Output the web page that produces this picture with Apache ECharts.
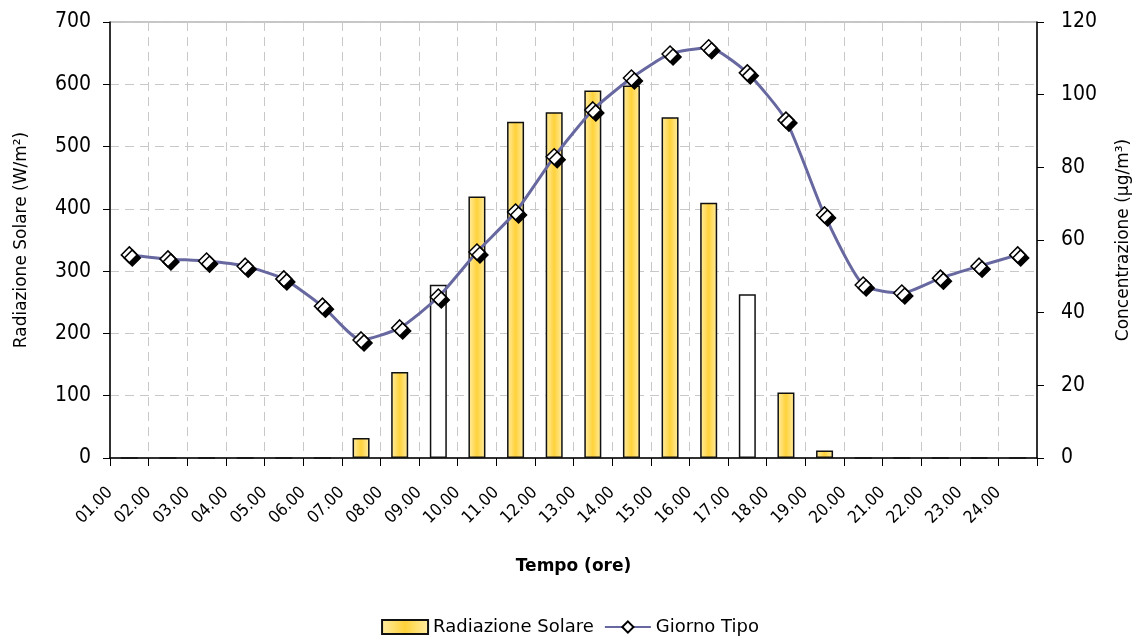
<!DOCTYPE html>
<html>
<head>
<meta charset="utf-8">
<script src="https://cdn.jsdelivr.net/npm/echarts@6/dist/echarts.min.js"></script>
<style>
    html, body { margin: 0; padding: 0; background: #fff; }
    #chart { width: 1140px; height: 640px; }
</style>
</head>
<body>
<div id="chart"></div>
<script>
// ore del giorno
var hours = ["01.00", "02.00", "03.00", "04.00", "05.00", "06.00", "07.00", "08.00",
    "09.00", "10.00", "11.00", "12.00", "13.00", "14.00", "15.00", "16.00",
    "17.00", "18.00", "19.00", "20.00", "21.00", "22.00", "23.00", "24.00"];
// radiazione solare (W/m2)
var radiazione = [0, 0, 0, 0, 0, 0, 32, 138, 278, 420, 540, 555,
    590, 598, 547, 410, 263, 105, 12, 0, 0, 0, 0, 0];
// concentrazione giorno tipo (ug/m3)
var giornoTipo = [55.9, 54.8, 54.2, 52.8, 49.3, 41.8, 32.5, 35.8, 44.3, 56.7, 67.7, 82.9,
    95.8, 104.6, 111.2, 112.9, 106.0, 93.0, 66.9, 47.6, 45.4, 49.5, 52.8, 55.9];
// barre senza riempimento nel grafico originale
var barreBianche = ["09.00", "17.00"];

var fontNum = "'DejaVu Sans Condensed', 'DejaVu Sans', sans-serif";
var font = "'DejaVu Sans', sans-serif";

var yellowFill = new echarts.graphic.LinearGradient(0, 0, 1, 0, [
    { offset: 0, color: "#FFEDA6" },
    { offset: 0.5, color: "#FFD23A" },
    { offset: 1, color: "#FFEDA6" }
]);

var barData = radiazione.map(function(v, i) {
    if (barreBianche.indexOf(hours[i]) >= 0) {
        return { value: v, itemStyle: { color: "#ffffff" } };
    }
    return v;
});

var myChart = echarts.init(document.getElementById("chart"));
var option = {
    animation: false,
    textStyle: { fontFamily: font, color: "#000" },
    grid: {
        left: 110,
        right: 102,
        top: 22,
        bottom: 182,
        show: true,
        borderColor: "#8c8c8c",
        borderWidth: 1
    },
    legend: {
        bottom: -1,
        left: "center",
        itemWidth: 46,
        itemHeight: 14,
        itemGap: 10,
        textStyle: { fontFamily: font, fontSize: 18, color: "#000" },
        data: [
            { name: "Radiazione Solare", icon: "rect" },
            { name: "Giorno Tipo" }
        ]
    },
    xAxis: [
        {
            type: "category",
            data: hours,
            boundaryGap: true,
            axisLine: { lineStyle: { color: "#000", width: 1.5 } },
            axisTick: { alignWithLabel: true, length: 5, lineStyle: { color: "#000" } },
            axisLabel: { show: false },
            splitLine: { show: false }
        },
        {
            // asse di appoggio per etichette e tacche sui confini delle ore
            type: "category",
            data: hours.concat([""]),
            boundaryGap: false,
            position: "bottom",
            axisLine: { show: false },
            axisTick: { length: 8, interval: 0, lineStyle: { color: "#000" } },
            axisLabel: {
                interval: 0,
                rotate: 45,
                margin: 32,
                fontSize: 17,
                color: "#000",
                fontFamily: fontNum
            },
            splitLine: {
                show: true,
                interval: 0,
                lineStyle: { color: "#c8c8c8", type: [9, 6], width: 1 }
            },
            name: "Tempo (ore)",
            nameLocation: "middle",
            nameGap: 100,
            nameTextStyle: { fontSize: 17, fontWeight: "bold", color: "#000", fontFamily: font }
        }
    ],
    yAxis: [
        {
            type: "value",
            min: 0,
            max: 700,
            interval: 100,
            position: "left",
            axisLine: { show: true, lineStyle: { color: "#000", width: 1.5 } },
            axisTick: { show: true, length: 7, lineStyle: { color: "#000" } },
            axisLabel: { fontSize: 21, color: "#000", margin: 19, fontFamily: fontNum },
            splitLine: { lineStyle: { color: "#c8c8c8", type: [9, 6], width: 1 } },
            name: "Radiazione Solare (W/m²)",
            nameLocation: "middle",
            nameRotate: 90,
            nameGap: 80,
            nameTextStyle: { fontSize: 17, color: "#000", fontFamily: font }
        },
        {
            type: "value",
            min: 0,
            max: 120,
            interval: 20,
            position: "right",
            axisLine: { show: true, lineStyle: { color: "#000", width: 1.5 } },
            axisTick: { show: true, length: 7, lineStyle: { color: "#000" } },
            axisLabel: { fontSize: 21, color: "#000", margin: 24, fontFamily: fontNum },
            splitLine: { show: false },
            name: "Concentrazione (µg/m³)",
            nameLocation: "middle",
            nameRotate: 90,
            nameGap: 78,
            nameTextStyle: { fontSize: 17, color: "#000", fontFamily: font }
        }
    ],
    series: [
        {
            name: "Radiazione Solare",
            type: "bar",
            xAxisIndex: 0,
            yAxisIndex: 0,
            barWidth: 17,
            itemStyle: {
                color: yellowFill,
                borderColor: "#111",
                borderWidth: 1.5
            },
            data: barData
        },
        {
            name: "Giorno Tipo",
            type: "line",
            xAxisIndex: 0,
            yAxisIndex: 1,
            smooth: 0.2,
            symbol: "diamond",
            symbolSize: 16,
            lineStyle: { color: "#6868A0", width: 3 },
            itemStyle: {
                color: "#ffffff",
                borderColor: "#000",
                borderWidth: 1.5,
                shadowColor: "#000",
                shadowBlur: 0,
                shadowOffsetX: 3,
                shadowOffsetY: 3
            },
            data: giornoTipo
        }
    ]
};
myChart.setOption(option);
</script>
</body>
</html>
